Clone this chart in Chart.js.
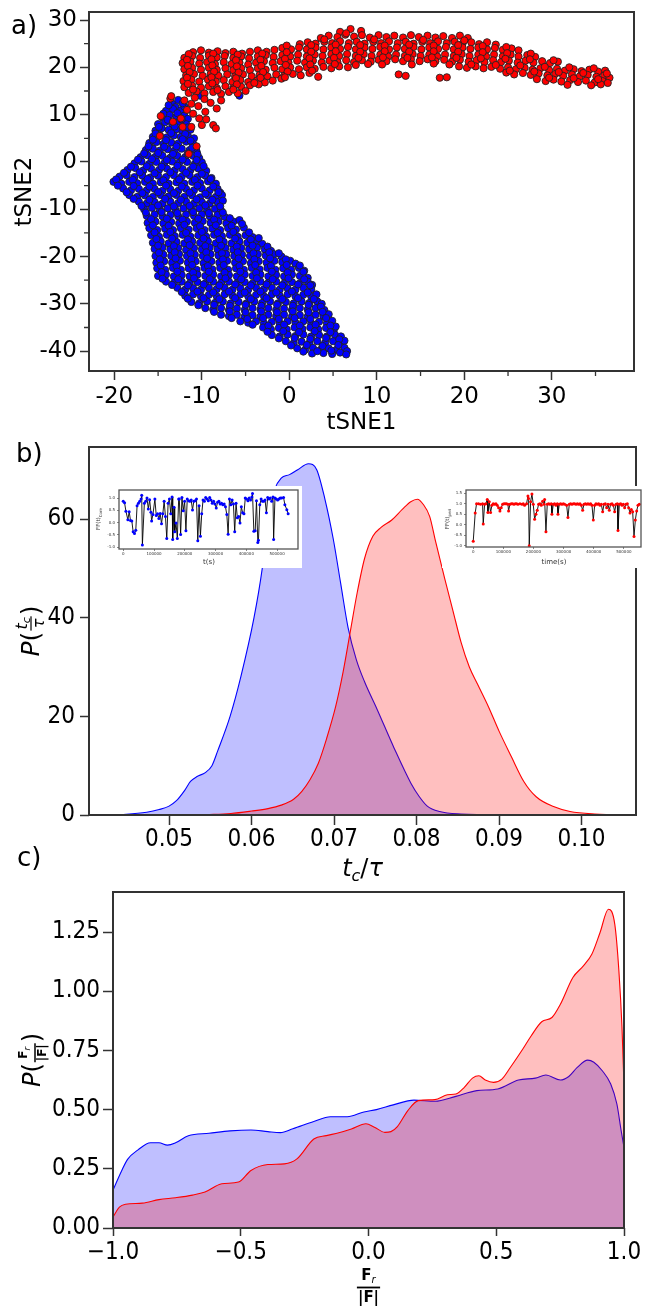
<!DOCTYPE html>
<html>
<head>
<meta charset="utf-8">
<script src="https://cdn.jsdelivr.net/npm/chart.js@4.4.1/dist/chart.umd.min.js"></script>
<style>
  body { margin: 0; background: #fff; }
  #wrap { position: relative; width: 657px; height: 1306px; overflow: hidden; }
  canvas { position: absolute; }
</style>
</head>
<body>
<div id="wrap">
  <canvas id="tsne" width="657" height="440" style="left:0;top:0"></canvas>
  <canvas id="tc" width="657" height="445" style="left:0;top:440px"></canvas>
  <canvas id="fr" width="657" height="466" style="left:0;top:840px"></canvas>
  <canvas id="core" width="210" height="82" style="left:92px;top:486px;background:#fff"></canvas>
  <canvas id="peri" width="208" height="82" style="left:442px;top:486px;background:#fff"></canvas>
</div>
<script>
// ---- a) tSNE embedding: core (blue) and periphery (red) points
const tsneCore = [
  [-13.4,12.3],[-12.7,13.1],[-13.0,11.6],[-10.2,14.0],[-5.7,14.0],
  [-14.1,10.8],[-13.3,11.2],[-12.4,10.9],[-12.0,11.7],
  [-14.5,9.4],[-13.7,9.9],[-12.9,9.6],[-12.0,9.8],[-11.6,9.1],
  [-15.0,8.0],[-14.2,8.4],[-13.4,8.1],[-12.6,8.5],[-11.8,8.0],
  [-15.3,6.6],[-14.6,7.1],[-13.8,6.8],[-12.9,6.9],[-12.2,6.5],[-11.3,6.8],
  [-15.6,5.3],[-14.8,5.6],[-14.0,5.2],[-13.2,5.6],[-12.4,5.3],[-11.6,5.5],[-10.9,5.0],
  [-16.0,4.0],[-15.2,4.2],[-14.4,3.8],[-13.5,4.1],[-12.7,3.9],[-11.8,4.3],[-11.0,3.8],
  [-16.4,2.5],[-15.6,2.8],[-14.8,2.4],[-13.9,2.7],[-13.1,2.4],[-12.3,2.8],[-11.4,2.5],[-10.6,2.2],
  [-17.0,1.0],[-16.2,1.4],[-15.3,1.1],[-14.5,1.3],[-13.6,0.9],[-12.8,1.3],[-11.9,1.0],[-11.0,1.3],[-10.3,0.8],
  [-17.7,-0.3],[-16.9,0.1],[-16.0,-0.4],[-15.2,0.0],[-14.3,-0.3],[-13.4,0.1],[-12.6,-0.2],[-11.7,0.0],[-10.8,-0.4],[-10.0,-0.1],
  [-18.5,-1.7],[-17.6,-1.3],[-16.7,-1.8],[-15.8,-1.4],[-14.9,-1.7],[-14.0,-1.4],[-13.1,-1.8],[-12.2,-1.5],[-11.3,-1.7],[-10.4,-1.4],[-9.5,-1.9],
  [-19.4,-3.1],[-18.6,-2.8],[-17.7,-3.2],[-16.8,-2.9],[-15.9,-3.3],[-15.0,-2.9],[-14.1,-3.2],[-13.2,-2.8],[-12.3,-3.1],[-11.4,-2.8],[-10.5,-3.2],[-9.6,-2.9],[-8.9,-3.4],
  [-20.1,-4.2],[-19.2,-4.6],[-18.3,-4.2],[-17.4,-4.5],[-16.5,-4.2],[-15.6,-4.6],[-14.7,-4.3],[-13.8,-4.6],[-12.9,-4.3],[-12.0,-4.6],[-11.1,-4.2],[-10.2,-4.5],[-9.3,-4.1],[-8.4,-4.6],
  [-19.0,-5.6],[-18.1,-6.0],[-17.2,-5.7],[-16.3,-6.0],[-15.4,-5.7],[-14.5,-6.1],[-13.6,-5.8],[-12.7,-6.1],[-11.8,-5.7],[-10.9,-6.0],[-10.0,-5.6],[-9.1,-6.0],[-8.2,-5.7],[-7.9,-6.5],
  [-18.3,-7.0],[-17.4,-7.4],[-16.5,-7.1],[-15.6,-7.4],[-14.7,-7.0],[-13.8,-7.3],[-12.9,-7.0],[-12.0,-7.4],[-11.1,-7.1],[-10.2,-7.5],[-9.3,-7.1],[-8.4,-7.4],[-7.7,-7.0],
  [-17.2,-8.4],[-16.3,-8.8],[-15.4,-8.5],[-14.5,-8.8],[-13.6,-8.4],[-12.7,-8.7],[-11.8,-8.4],[-10.9,-8.8],[-10.0,-8.5],[-9.1,-8.8],[-8.2,-8.5],[-7.6,-8.2],
  [-16.6,-10.0],[-15.7,-9.7],[-14.8,-10.1],[-13.9,-9.8],[-13.0,-10.2],[-12.1,-9.8],[-11.2,-10.1],[-10.3,-9.8],[-9.4,-10.2],[-8.5,-9.9],[-7.8,-10.3],
  [-16.3,-11.4],[-15.4,-11.1],[-14.5,-11.5],[-13.6,-11.2],[-12.7,-11.5],[-11.8,-11.1],[-10.9,-11.4],[-10.0,-11.1],[-9.1,-11.5],[-8.2,-11.2],[-7.4,-11.6],
  [-16.2,-12.9],[-15.3,-12.6],[-14.4,-13.0],[-13.5,-12.7],[-12.6,-13.0],[-11.7,-12.6],[-10.8,-12.9],[-9.9,-12.5],[-9.0,-12.9],[-8.1,-12.6],[-7.2,-13.0],[-6.4,-12.6],[-5.7,-12.3],
  [-16.0,-14.0],[-15.1,-14.4],[-14.2,-14.1],[-13.3,-14.4],[-12.4,-14.0],[-11.5,-14.3],[-10.6,-14.0],[-9.7,-14.4],[-8.8,-14.1],[-7.9,-14.4],[-7.0,-14.0],[-6.1,-14.3],[-5.2,-13.9],
  [-15.8,-15.5],[-14.9,-15.8],[-14.0,-15.4],[-13.1,-15.7],[-12.2,-15.4],[-11.3,-15.8],[-10.4,-15.5],[-9.5,-15.8],[-8.6,-15.4],[-7.7,-15.7],[-6.8,-15.4],[-5.9,-15.8],[-5.0,-15.5],[-4.2,-15.9],
  [-15.6,-17.1],[-14.7,-16.8],[-13.8,-17.2],[-12.9,-16.9],[-12.0,-17.2],[-11.1,-16.8],[-10.2,-17.1],[-9.3,-16.8],[-8.4,-17.2],[-7.5,-16.9],[-6.6,-17.2],[-5.7,-16.8],[-4.8,-17.1],[-3.9,-16.8],[-3.1,-17.3],
  [-15.4,-18.4],[-14.5,-18.1],[-13.6,-18.5],[-12.7,-18.2],[-11.8,-18.6],[-10.9,-18.2],[-10.0,-18.5],[-9.1,-18.1],[-8.2,-18.5],[-7.3,-18.2],[-6.4,-18.6],[-5.5,-18.2],[-4.6,-18.5],[-3.7,-18.1],[-2.8,-18.5],[-2.1,-18.8],
  [-15.3,-19.9],[-14.4,-19.6],[-13.5,-19.9],[-12.6,-19.5],[-11.7,-19.9],[-10.8,-19.6],[-9.9,-19.9],[-9.0,-19.5],[-8.1,-19.8],[-7.2,-19.5],[-6.3,-19.9],[-5.4,-19.6],[-4.5,-19.9],[-3.6,-19.5],[-2.7,-19.8],[-1.8,-19.5],[-0.9,-20.0],
  [-15.2,-21.3],[-14.3,-21.0],[-13.4,-21.3],[-12.5,-20.9],[-11.6,-21.3],[-10.7,-21.0],[-9.8,-21.4],[-8.9,-21.0],[-8.0,-21.3],[-7.1,-20.9],[-6.2,-21.3],[-5.3,-21.0],[-4.4,-21.4],[-3.5,-21.0],[-2.6,-21.3],[-1.7,-20.9],[-0.8,-21.2],[0.1,-20.9],[0.7,-21.5],
  [-15.1,-22.5],[-14.2,-22.8],[-13.3,-22.4],[-12.4,-22.8],[-11.5,-22.5],[-10.6,-22.8],[-9.7,-22.4],[-8.8,-22.7],[-7.9,-22.4],[-7.0,-22.8],[-6.1,-22.5],[-5.2,-22.8],[-4.3,-22.4],[-3.4,-22.7],[-2.5,-22.4],[-1.6,-22.8],[-0.7,-22.5],[0.2,-22.8],[1.1,-22.4],[1.7,-23.0],
  [-15.0,-24.1],[-14.1,-23.8],[-13.2,-24.2],[-12.3,-23.9],[-11.4,-24.2],[-10.5,-23.8],[-9.6,-24.1],[-8.7,-23.8],[-7.8,-24.2],[-6.9,-23.9],[-6.0,-24.2],[-5.1,-23.8],[-4.2,-24.1],[-3.3,-23.8],[-2.4,-24.2],[-1.5,-23.9],[-0.6,-24.2],[0.3,-23.8],[1.2,-24.1],[2.1,-24.5],
  [-14.1,-25.3],[-13.2,-25.6],[-12.3,-25.3],[-11.4,-25.7],[-10.5,-25.4],[-9.6,-25.7],[-8.7,-25.3],[-7.8,-25.6],[-6.9,-25.3],[-6.0,-25.7],[-5.1,-25.4],[-4.2,-25.7],[-3.3,-25.3],[-2.4,-25.6],[-1.5,-25.3],[-0.6,-25.7],[0.3,-25.4],[1.2,-25.7],[2.1,-25.3],[2.6,-26.0],
  [-12.8,-26.6],[-11.9,-27.0],[-11.0,-26.7],[-10.1,-27.0],[-9.2,-26.6],[-8.3,-26.9],[-7.4,-26.6],[-6.5,-27.0],[-5.6,-26.7],[-4.7,-27.0],[-3.8,-26.6],[-2.9,-26.9],[-2.0,-26.6],[-1.1,-27.0],[-0.2,-26.7],[0.7,-27.0],[1.6,-26.6],[2.5,-26.9],
  [-11.9,-28.3],[-11.0,-28.0],[-10.1,-28.4],[-9.2,-28.1],[-8.3,-28.4],[-7.4,-28.0],[-6.5,-28.3],[-5.6,-28.0],[-4.7,-28.4],[-3.8,-28.1],[-2.9,-28.4],[-2.0,-28.0],[-1.1,-28.3],[-0.2,-28.0],[0.7,-28.4],[1.6,-28.1],[2.5,-28.4],[3.1,-28.0],
  [-11.2,-29.6],[-10.3,-29.9],[-9.4,-29.5],[-8.5,-29.8],[-7.6,-29.5],[-6.7,-29.9],[-5.8,-29.6],[-4.9,-29.9],[-4.0,-29.5],[-3.1,-29.8],[-2.2,-29.5],[-1.3,-29.9],[-0.4,-29.6],[0.5,-29.9],[1.4,-29.5],[2.3,-29.8],[3.2,-29.5],[3.7,-30.0],
  [-9.6,-30.9],[-8.7,-31.2],[-7.8,-30.9],[-6.9,-31.3],[-6.0,-31.0],[-5.1,-31.3],[-4.2,-30.9],[-3.3,-31.2],[-2.4,-30.9],[-1.5,-31.3],[-0.6,-31.0],[0.3,-31.3],[1.2,-30.9],[2.1,-31.2],[3.0,-30.9],[4.0,-31.3],
  [-7.8,-32.3],[-6.9,-32.6],[-6.0,-32.3],[-5.1,-32.7],[-4.2,-32.4],[-3.3,-32.7],[-2.4,-32.3],[-1.5,-32.6],[-0.6,-32.3],[0.3,-32.7],[1.2,-32.4],[2.1,-32.7],[3.0,-32.3],[3.9,-32.6],[4.5,-32.2],
  [-5.6,-33.7],[-4.7,-34.0],[-3.8,-33.7],[-2.9,-34.1],[-2.0,-33.8],[-1.1,-34.1],[-0.2,-33.7],[0.7,-34.0],[1.6,-33.7],[2.5,-34.1],[3.4,-33.8],[4.3,-34.1],[4.9,-33.6],
  [-3.0,-35.0],[-2.1,-35.4],[-1.2,-35.1],[-0.3,-35.4],[0.6,-35.0],[1.5,-35.3],[2.4,-35.0],[3.3,-35.4],[4.2,-35.1],[5.1,-35.4],[5.3,-34.8],
  [-2.0,-36.6],[-1.1,-36.9],[-0.2,-36.5],[0.7,-36.8],[1.6,-36.5],[2.5,-36.9],[3.4,-36.6],[4.3,-36.9],[5.2,-36.5],[5.9,-36.9],
  [-0.4,-37.9],[0.5,-38.3],[1.4,-38.0],[2.3,-38.3],[3.2,-37.9],[4.1,-38.2],[5.0,-37.9],[5.9,-38.3],[6.3,-37.8],
  [0.9,-39.4],[1.8,-39.7],[2.7,-39.3],[3.6,-39.7],[4.5,-39.4],[5.4,-39.7],[6.3,-39.3],[6.6,-40.0],
  [2.6,-40.5],[3.9,-40.4],[4.9,-40.6],[5.8,-40.3],[6.5,-40.7],
  // second, offset layer filling the gaps
  [-13.8,12.0],[-12.2,12.4],[-14.4,10.2],[-12.8,10.3],[-13.9,8.9],[-12.3,9.0],[-14.9,7.4],[-13.1,7.5],[-11.6,7.3],
  [-15.3,6.0],[-13.5,6.1],[-11.9,5.9],[-15.6,4.7],[-14.1,4.6],[-12.2,4.8],[-11.3,4.5],[-16.1,3.3],[-14.3,3.2],[-12.9,3.3],[-11.1,3.0],
  [-16.6,1.8],[-15.0,1.9],[-13.3,1.7],[-11.6,1.8],[-10.5,1.6],[-17.3,0.5],[-15.7,0.6],[-14.0,0.4],[-12.2,0.5],[-10.6,0.4],
  [-18.1,-1.0],[-16.3,-0.9],[-14.6,-1.0],[-12.8,-0.8],[-11.0,-1.0],[-9.8,-0.9],[-18.9,-2.3],[-17.1,-2.2],[-15.4,-2.4],[-13.6,-2.2],[-11.8,-2.3],[-10.0,-2.5],
  [-19.8,-3.7],[-17.9,-3.8],[-16.2,-3.6],[-14.4,-3.9],[-12.6,-3.7],[-10.8,-3.8],[-9.0,-3.6],[-19.6,-5.0],[-17.8,-5.1],[-16.0,-5.2],[-14.1,-5.0],[-12.3,-5.2],[-10.5,-5.0],[-8.7,-5.2],
  [-18.6,-6.4],[-16.8,-6.6],[-15.0,-6.4],[-13.2,-6.6],[-11.4,-6.5],[-9.6,-6.7],[-8.1,-6.4],[-17.8,-7.8],[-16.0,-8.0],[-14.2,-7.8],[-12.4,-8.0],[-10.6,-7.9],[-8.8,-8.0],
  [-16.9,-9.3],[-15.0,-9.2],[-13.2,-9.4],[-11.4,-9.3],[-9.6,-9.2],[-7.9,-9.4],[-16.4,-10.7],[-14.6,-10.6],[-12.8,-10.8],[-11.0,-10.6],[-9.2,-10.8],[-7.6,-10.7],
  [-15.8,-12.1],[-14.0,-12.0],[-12.2,-12.2],[-10.4,-12.0],[-8.6,-12.2],[-6.8,-11.9],[-15.6,-13.4],[-13.8,-13.5],[-12.0,-13.3],[-10.2,-13.6],[-8.4,-13.4],[-6.6,-13.5],[-5.4,-13.1],
  [-15.4,-14.9],[-13.6,-14.8],[-11.8,-15.0],[-10.0,-14.8],[-8.2,-15.0],[-6.4,-14.8],[-4.6,-14.9],[-15.2,-16.3],[-13.4,-16.2],[-11.6,-16.4],[-9.8,-16.2],[-8.0,-16.4],[-6.2,-16.2],[-4.4,-16.4],[-3.5,-16.1],
  [-15.0,-17.7],[-13.2,-17.8],[-11.4,-17.6],[-9.6,-17.8],[-7.8,-17.7],[-6.0,-17.9],[-4.2,-17.7],[-2.5,-17.9],
  [-14.9,-19.2],[-13.1,-19.1],[-11.3,-19.3],[-9.5,-19.1],[-7.7,-19.3],[-5.9,-19.1],[-4.1,-19.3],[-2.3,-19.1],[-1.2,-19.3],
  [-14.8,-20.6],[-13.0,-20.4],[-11.2,-20.6],[-9.4,-20.4],[-7.6,-20.6],[-5.8,-20.4],[-4.0,-20.6],[-2.2,-20.4],[-0.4,-20.6],
  [-14.7,-21.9],[-12.9,-22.0],[-11.1,-21.8],[-9.3,-22.0],[-7.5,-21.8],[-5.7,-22.0],[-3.9,-21.8],[-2.1,-22.0],[-0.3,-21.8],[1.2,-21.9],
  [-14.6,-23.3],[-12.8,-23.2],[-11.0,-23.4],[-9.2,-23.2],[-7.4,-23.4],[-5.6,-23.2],[-3.8,-23.4],[-2.0,-23.2],[-0.2,-23.4],[1.6,-23.2],
  [-14.5,-24.7],[-12.7,-24.8],[-10.9,-24.6],[-9.1,-24.8],[-7.3,-24.6],[-5.5,-24.8],[-3.7,-24.6],[-1.9,-24.8],[-0.1,-24.6],[1.7,-24.8],
  [-13.4,-26.0],[-11.6,-26.1],[-9.8,-25.9],[-8.0,-26.1],[-6.2,-25.9],[-4.4,-26.1],[-2.6,-25.9],[-0.8,-26.1],[1.0,-25.9],[2.4,-26.1],
  [-12.3,-27.5],[-10.5,-27.4],[-8.7,-27.6],[-6.9,-27.4],[-5.1,-27.6],[-3.3,-27.4],[-1.5,-27.6],[0.3,-27.4],[2.1,-27.6],
  [-11.6,-28.9],[-9.8,-28.8],[-8.0,-29.0],[-6.2,-28.8],[-4.4,-29.0],[-2.6,-28.8],[-0.8,-29.0],[1.0,-28.8],[2.8,-29.0],
  [-10.4,-30.3],[-8.6,-30.2],[-6.8,-30.4],[-5.0,-30.2],[-3.2,-30.4],[-1.4,-30.2],[0.4,-30.4],[2.2,-30.2],[3.6,-30.6],
  [-8.6,-31.7],[-6.8,-31.6],[-5.0,-31.8],[-3.2,-31.6],[-1.4,-31.8],[0.4,-31.6],[2.2,-31.8],[3.8,-31.7],
  [-6.6,-33.0],[-4.8,-33.2],[-3.0,-33.0],[-1.2,-33.2],[0.6,-33.0],[2.4,-33.2],[4.2,-33.0],
  [-4.2,-34.4],[-2.4,-34.6],[-0.6,-34.4],[1.2,-34.6],[3.0,-34.4],[4.7,-34.6],[-2.5,-35.9],[-0.7,-35.8],[1.1,-36.0],[2.9,-35.8],[4.7,-36.0],
  [-1.2,-37.3],[0.6,-37.2],[2.4,-37.4],[4.2,-37.2],[5.7,-37.5],[0.2,-38.8],[2.0,-38.7],[3.8,-38.9],[5.6,-38.7],[1.6,-40.1],[3.2,-40.0],[4.8,-39.9]
];
const tsnePeri = [
  [5.8,27.5],[7.0,28.1],[8.2,27.7],
  [3.6,26.2],[4.5,26.7],[5.5,26.4],[6.4,26.9],[7.4,26.5],[8.3,26.8],[9.2,26.3],[10.2,26.8],[11.1,26.4],[12.0,26.7],[13.0,26.3],[13.9,26.8],[14.8,26.4],[15.8,26.7],[16.7,26.3],[17.6,26.6],[18.6,26.2],[19.5,26.7],[20.4,26.2],
  [1.2,24.9],[2.1,25.3],[3.0,25.0],[4.0,25.4],[4.9,25.1],[5.8,25.5],[6.8,25.1],[7.7,25.4],[8.6,25.0],[9.6,25.4],[10.5,25.1],[11.4,25.5],[12.4,25.1],[13.3,25.4],[14.2,25.0],[15.2,25.4],[16.1,25.1],[17.0,25.5],[18.0,25.1],[18.9,25.4],[19.8,25.0],[20.8,25.3],[21.7,24.9],[22.6,25.3],[23.6,24.8],
  [-11.0,23.2],[-10.1,23.6],[-9.2,23.1],[-8.2,23.4],[-7.3,23.0],[-6.4,23.3],[-5.4,22.9],[-4.5,23.3],[-3.6,23.6],[-2.6,23.3],[-1.7,23.7],[-0.8,24.1],[0.2,23.8],[1.1,24.2],[2.0,23.8],[3.0,24.2],[3.9,23.8],[4.8,24.2],[5.8,23.9],[6.7,24.3],[7.6,23.8],[8.6,24.2],[9.5,23.9],[10.4,24.3],[11.4,23.8],[12.3,24.2],[13.2,23.9],[14.2,24.3],[15.1,23.8],[16.0,24.2],[17.0,23.9],[17.9,24.3],[18.8,23.8],[19.8,24.2],[20.7,23.9],[21.6,24.2],[22.6,23.8],[23.5,24.1],[24.4,23.7],[25.4,24.0],[26.2,23.6],
  [-12.0,22.0],[-11.1,22.4],[-10.2,22.0],[-9.2,22.5],[-8.3,22.1],[-7.4,22.4],[-6.4,22.0],[-5.5,22.3],[-4.6,21.9],[-3.6,22.3],[-2.7,22.6],[-1.8,22.2],[-0.8,22.6],[0.1,22.3],[1.0,22.7],[2.0,22.3],[2.9,22.7],[3.8,22.4],[4.8,22.8],[5.7,22.4],[6.6,22.8],[7.6,22.4],[8.5,22.8],[9.4,22.4],[10.4,22.7],[11.3,22.3],[12.2,22.7],[13.2,22.4],[14.1,22.8],[15.0,22.4],[16.0,22.7],[16.9,22.3],[17.8,22.7],[18.8,22.4],[19.7,22.8],[20.6,22.4],[21.6,22.7],[22.5,22.3],[23.4,22.7],[24.4,22.3],[25.3,22.7],[26.2,22.3],[27.2,22.6],[28.1,22.2],
  [-12.2,20.9],[-11.3,21.2],[-10.3,20.8],[-9.4,21.1],[-8.5,20.7],[-7.5,21.1],[-6.6,20.7],[-5.7,21.0],[-4.7,20.6],[-3.8,21.0],[-2.9,21.3],[-1.9,20.9],[-1.0,21.3],[-0.1,21.0],[0.9,21.4],[1.8,21.0],[2.7,21.4],[3.7,21.0],[4.6,21.4],[5.5,21.1],[6.5,21.5],[7.4,21.1],[8.3,21.5],[9.3,21.2],[10.2,21.6],[11.1,21.3],[12.1,21.7],[13.0,21.3],[13.9,21.7],[14.9,21.3],[15.8,21.7],[16.7,21.3],[17.7,21.6],[18.6,21.2],[19.5,21.6],[20.5,21.2],[21.4,21.5],[22.3,21.1],[23.3,21.5],[24.2,21.1],[25.1,21.4],[26.1,21.0],[27.0,21.4],[27.9,21.0],[28.9,21.3],[29.8,20.9],[30.7,21.2],
  [-12.0,19.6],[-11.1,19.9],[-10.1,19.5],[-9.2,19.9],[-8.3,19.5],[-7.3,19.8],[-6.4,19.4],[-5.5,19.8],[-4.5,19.4],[-3.6,19.8],[-2.7,19.5],[-1.7,19.9],[-0.8,19.6],[0.1,20.0],[1.1,19.6],[2.0,20.0],[2.9,19.7],[3.9,20.1],[4.8,19.8],[5.7,20.2],[6.7,20.0],[7.6,20.5],[9.0,20.7],[10.6,20.6],[14.0,20.6],[16.5,20.8],[18.3,20.6],[19.4,20.2],[20.3,19.9],[21.3,20.2],[22.2,19.8],[23.1,20.1],[24.1,19.7],[25.0,20.0],[25.9,19.6],[26.9,19.9],[27.8,19.5],[28.7,19.8],[29.7,19.4],[30.6,19.7],[31.5,19.3],[32.5,19.6],[33.4,19.2],[34.3,19.5],[35.3,19.1],[36.1,19.3],
  [-11.8,18.3],[-10.9,18.6],[-9.9,18.2],[-9.0,18.6],[-8.1,18.2],[-7.1,18.5],[-6.2,18.1],[-5.3,18.5],[-4.3,18.1],[-3.4,18.4],[-2.5,18.1],[-1.5,18.5],[-0.6,18.2],[0.4,18.6],[1.3,18.3],[2.3,18.8],[3.3,18.0],[12.5,18.5],[13.3,18.2],[17.2,17.8],[18.0,17.9],[24.8,18.9],[25.7,18.5],[26.7,18.8],[27.6,18.4],[28.5,18.7],[29.5,18.3],[30.4,18.6],[31.3,18.2],[32.3,18.5],[33.2,18.1],[34.1,18.4],[35.1,18.0],[36.0,18.3],[36.6,17.8],
  [-12.1,17.1],[-11.2,17.4],[-10.3,17.0],[-9.3,17.4],[-8.4,17.0],[-7.5,17.3],[-6.5,16.9],[-5.6,17.3],[-4.7,16.9],[-3.7,17.2],[-2.8,16.8],[-1.9,17.2],[-0.9,17.6],[28.3,17.5],[29.3,17.1],[30.2,17.4],[31.1,17.0],[32.1,17.3],[33.0,16.9],[33.9,17.2],[34.9,16.8],[35.8,17.1],[36.4,16.7],
  [-12.0,15.8],[-11.1,16.1],[-10.1,15.7],[-9.2,16.0],[-8.3,15.6],[-7.3,16.0],[-6.4,15.6],[-5.5,15.9],[-4.5,16.2],[-3.5,16.4],[31.8,16.3],[34.5,16.2],[35.6,16.4],
  [-11.5,14.6],[-10.6,14.9],[-9.7,14.5],[-8.7,14.8],[-7.8,14.4],[-6.9,14.8],[-5.9,14.5],[-5.0,15.0],
  // second, offset layer filling the gaps
  [6.5,27.2],[4.0,25.9],[9.7,25.9],[15.3,25.8],[20.0,25.7],[-0.3,24.6],[2.5,24.7],[5.3,24.8],[8.1,24.7],[10.9,24.6],[13.7,24.8],[16.5,24.6],[19.3,24.7],[22.1,24.5],[24.8,24.3],
  [-11.5,22.8],[-8.7,22.9],[-5.9,22.7],[-3.1,22.9],[-0.3,23.2],[2.5,23.3],[5.3,23.4],[8.1,23.3],[10.9,23.4],[13.7,23.3],[16.5,23.4],[19.3,23.3],[22.1,23.2],[24.9,23.0],[27.6,22.9],
  [-11.7,21.6],[-8.9,21.7],[-6.1,21.5],[-3.3,21.6],[-0.5,21.8],[2.3,21.9],[5.1,22.0],[7.9,22.0],[10.7,22.1],[13.5,22.0],[16.3,22.1],[19.1,22.0],[21.9,21.9],[24.7,21.8],[27.5,21.7],[30.2,21.5],
  [-11.6,20.3],[-8.8,20.4],[-6.0,20.2],[-3.2,20.3],[-0.4,20.5],[2.4,20.6],[5.2,20.7],[20.8,20.6],[23.6,20.5],[26.4,20.4],[29.2,20.1],[32.0,20.0],[34.8,19.8],
  [-11.4,19.0],[-8.6,19.1],[-5.8,18.9],[-3.0,19.0],[-0.2,19.1],[2.6,19.3],[25.2,19.3],[28.0,19.1],[30.8,19.0],[33.6,18.8],[36.3,18.7],
  [-11.7,17.8],[-8.9,17.9],[-6.1,17.7],[-3.3,17.8],[-0.5,17.9],[29.7,17.8],[32.5,17.7],[35.3,17.5],
  [-11.6,16.5],[-8.8,16.6],[-6.0,16.4],[-4.0,16.7],[-11.0,15.3],[-8.2,15.2],[-6.4,15.3],
  // points mixed into the core cluster
  [-13.6,13.4],[-12.0,13.0],[-11.2,12.3],[-10.4,11.8],[-9.6,10.6],[-10.3,9.2],[-12.4,9.2],[-13.3,8.5],
  [-12.2,7.4],[-11.2,7.4],[-10.0,7.8],[-8.7,7.8],[-8.4,7.1],[-10.6,3.3],[-11.5,1.7],[-14.8,5.5],[-14.7,9.7],
  [-13.5,13.9],[-9.0,12.5],[-8.3,11.3],[-7.8,13.0],[-11.0,10.2],[-9.5,9.0],[-11.7,11.0],[-10.8,13.6],[-9.7,13.3]
];
const tsneMinorX = [-15, -5, 5, 15, 25, 35];
const tsneMinorY = [-35, -25, -15, -5, 5, 15, 25];

// ---- b) distribution of t_c / tau
const tcCoreX = [0.0403,0.0422,0.0448,0.0473,0.0488,0.05,0.0509,0.0519,0.0526,0.0534,0.0544,0.0552,0.0559,0.0574,0.0587,0.0603,0.0613,0.062,0.0628,0.0636,0.0646,0.0656,0.0669,0.0679,0.0689,0.0699,0.0708,0.0717,0.0727,0.0737,0.0752,0.0773,0.0793,0.0803,0.0813,0.0828,0.0854,0.0905,0.1066];
const tcCoreY = [0,0.05,0.15,0.55,1.1,1.8,2.9,5.0,6.8,7.8,8.6,10,13,20,28,40,50,60,66,68.3,69,70,71.2,70,64,56,47,38,31.5,27,21.5,13.5,6.5,3.8,1.8,0.7,0.2,0.03,0];
const tcPeriX = [0.0403,0.0524,0.0549,0.0575,0.06,0.062,0.0636,0.0651,0.0661,0.0671,0.0681,0.0691,0.0702,0.0711,0.0719,0.0728,0.0737,0.0747,0.0757,0.077,0.0783,0.0793,0.0801,0.0808,0.0816,0.0823,0.0834,0.0844,0.0854,0.0864,0.0874,0.0887,0.09,0.0915,0.093,0.0945,0.0966,0.0986,0.1016,0.1066];
const tcPeriY = [0,0,0.1,0.3,0.8,1.3,2,3.2,4.8,7.2,10.5,15.5,22,29,36.5,45,52,56.5,58.3,59.8,62,63.5,64,63,60.5,55.5,48,41.5,35,30,26.5,22,17,11.8,6.8,3.7,1.7,0.7,0.2,0.02];

// insets: FF(t) time series
const insetTimeTicks = [0, 100000, 200000, 300000, 400000, 500000];
const coreSeries = [
  [0,0.87],[4300,0.81],[8600,0.47],[15000,0.12],[19300,0.45],[23600,0.09],[27900,0.07],[32200,-0.37],[36500,-0.44],[40700,-0.31],
  [45000,0.69],[49300,0.79],[53600,0.87],[57900,0.96],[60000,1.12],[62200,-0.91],[68600,0.79],[72900,0.87],[77200,1.0],[81500,0.56],
  [85700,0.93],[90000,0.43],[92200,0.07],[96500,0.33],[102900,0.96],[107200,0.29],[111500,0.36],[115800,0.17],[120000,0.37],[124400,-0.04],
  [128600,0.36],[132900,0.87],[137200,0.25],[141500,-0.64],[145800,0.79],[150100,0.96],[154400,0.36],[158600,1.05],[160800,-0.68],[165100,0.63],
  [167200,-0.37],[171500,-0.01],[175800,-0.64],[180100,0.96],[182300,0.96],[186500,-0.48],[190800,1.03],[195100,0.49],[199400,0.87],[203700,-0.33],
  [208000,0.96],[212300,0.89],[216500,0.87],[220800,0.92],[225100,0.52],[229400,0.87],[233700,0.89],[238000,0.96],[242300,-0.73],[246500,0.69],
  [250800,-0.55],[255100,0.36],[259400,0.92],[263700,0.87],[268000,1.03],[272300,0.96],[276600,0.89],[280900,1.03],[285100,0.92],[289400,0.79],
  [293700,0.87],[298000,0.76],[302300,0.6],[306600,0.83],[310900,0.87],[315200,0.76],[319500,0.79],[323700,0.73],[328000,0.76],[332300,0.65],
  [336600,0.33],[340900,-0.47],[345200,0.96],[349500,0.73],[353800,0.92],[358100,0.76],[362300,-0.37],[366600,0.79],[370900,0.2],[375200,0.25],
  [379500,-0.01],[383800,0.65],[388100,0.4],[392300,0.36],[396600,1.0],[400900,0.96],[405200,0.89],[409500,1.0],[413800,0.92],[418100,1.05],
  [420200,1.19],[424500,-0.35],[428800,-0.33],[433100,0.89],[437400,-0.81],[439500,-0.71],[443800,0.73],[448100,0.96],[452400,0.87],[456700,0.87],
  [461000,0.92],[465300,0.4],[469500,1.03],[473800,0.96],[478100,1.0],[482400,0.87],[486700,1.05],[488800,-0.68],[493100,1.0],[497400,0.96],
  [501700,0.92],[506000,0.96],[510300,1.0],[514600,1.0],[521000,1.03],[525300,0.73],[531700,0.53],[536000,0.36]
];
const periSeries = [
  [0,-0.79],[6600,0.56],[11100,1.0],[17700,1.0],[24400,0.97],[31000,1.0],[33200,0.03],[37700,0.97],[42100,1.0],[46500,1.2],
  [48700,0.58],[53200,1.09],[57600,0.58],[62000,0.93],[66400,1.0],[70900,0.97],[75300,1.0],[79700,0.93],[84200,0.81],[88600,0.65],
  [93000,0.81],[97500,0.97],[101900,1.0],[106300,1.0],[110700,1.0],[115200,0.97],[117400,0.65],[121800,0.97],[126200,1.0],[130700,1.0],
  [135100,0.97],[139500,1.0],[144000,1.0],[148400,0.97],[155000,1.0],[161700,0.97],[166100,1.0],[170500,0.93],[177200,1.0],[181600,1.37],
  [183800,1.25],[186000,-1.0],[190500,1.09],[194900,1.46],[199300,0.97],[203800,0.26],[208200,0.5],[212600,0.69],[217100,0.97],[221500,1.0],
  [225900,0.93],[230300,1.12],[234800,0.97],[237000,1.2],[241400,-0.33],[245800,0.97],[250300,1.0],[254700,0.97],[259100,1.0],[261300,0.5],
  [265800,0.97],[270200,1.0],[274600,0.93],[279100,1.0],[281300,0.5],[285700,0.97],[290100,1.0],[294600,0.97],[299000,1.0],[303400,0.97],
  [310100,0.93],[314500,0.34],[318900,0.97],[323400,1.0],[327800,0.97],[332200,1.0],[336600,1.0],[341100,0.97],[345500,1.0],[349900,0.97],
  [354400,1.0],[358800,0.93],[363200,0.69],[367700,0.97],[372100,1.0],[376500,0.97],[380900,1.0],[385400,0.97],[389800,1.0],[394200,0.93],
  [398700,0.22],[403100,0.93],[407500,1.0],[412000,0.97],[416400,1.0],[420800,0.93],[425200,0.97],[429700,0.62],[434100,0.97],[438500,1.0],
  [443000,0.81],[447400,0.97],[451800,0.69],[456200,0.97],[460700,1.0],[465100,0.93],[469500,0.62],[474000,0.97],[478400,1.0],[480600,-0.28],
  [485000,0.97],[489500,1.0],[493900,0.93],[498300,0.97],[502700,0.81],[507200,0.97],[511600,1.0],[516000,0.81],[520500,0.56],[524900,0.72],
  [529300,0.62],[533800,-0.56],[538200,0.22],[542600,0.65],[547000,0.93],[551500,0.97]
];

// ---- c) distribution of F_r / |F|
const frCoreX = [-1,-0.967,-0.943,-0.902,-0.853,-0.82,-0.787,-0.755,-0.705,-0.624,-0.542,-0.46,-0.394,-0.345,-0.296,-0.214,-0.149,-0.083,-0.018,0.031,0.097,0.178,0.26,0.342,0.424,0.506,0.587,0.653,0.694,0.751,0.784,0.817,0.858,0.882,0.915,0.948,0.972,0.989,1.0];
const frCoreY = [0.16,0.24,0.29,0.33,0.36,0.36,0.35,0.36,0.39,0.40,0.41,0.414,0.407,0.403,0.419,0.45,0.47,0.47,0.49,0.50,0.52,0.54,0.535,0.556,0.58,0.587,0.625,0.633,0.646,0.625,0.64,0.678,0.709,0.70,0.664,0.608,0.524,0.41,0.34];
const frPeriX = [-1,-0.975,-0.951,-0.885,-0.82,-0.755,-0.689,-0.64,-0.574,-0.509,-0.46,-0.394,-0.329,-0.28,-0.214,-0.165,-0.116,-0.067,-0.01,0.023,0.064,0.088,0.113,0.154,0.195,0.26,0.309,0.342,0.375,0.407,0.432,0.457,0.489,0.522,0.555,0.604,0.637,0.678,0.718,0.751,0.8,0.841,0.874,0.906,0.939,0.964,0.98,0.992,1.0];
const frPeriY = [0.046,0.088,0.10,0.105,0.12,0.128,0.139,0.152,0.187,0.194,0.243,0.268,0.271,0.292,0.376,0.39,0.402,0.418,0.44,0.426,0.404,0.407,0.428,0.496,0.538,0.542,0.563,0.566,0.594,0.633,0.643,0.625,0.615,0.629,0.678,0.756,0.812,0.871,0.889,0.945,1.058,1.107,1.156,1.247,1.346,1.282,1.086,0.85,0.6];

const FA = "'DejaVu Sans', sans-serif";
const FN = "'DejaVu Sans Condensed', 'DejaVu Sans', sans-serif";
const INK = '#333';

Chart.defaults.font.family = FA;
Chart.defaults.color = '#000';
Chart.defaults.animation = false;
Chart.defaults.responsive = false;
Chart.defaults.devicePixelRatio = 1;
Chart.defaults.events = [];
Chart.defaults.plugins.legend.display = false;
Chart.defaults.plugins.tooltip.enabled = false;

const xy = (xs, ys) => xs.map((v, i) => ({x: v, y: ys[i]}));
const pairs = arr => arr.map(p => ({x: p[0], y: p[1]}));

// fixed axis box so the plot areas line up across the canvases
function fit(size) {
  return s => {
    if (s.isHorizontal()) s.height = size; else s.width = size;
    s.paddingTop = s.paddingBottom = s.paddingLeft = s.paddingRight = 0;
  };
}

function axis(o) {
  const a = {
    type: 'linear', min: o.min, max: o.max, afterFit: fit(o.size),
    border: {display: false},
    grid: {drawOnChartArea: false, tickLength: o.tl, tickColor: o.tc || INK, tickWidth: o.tw || 1.5},
    ticks: {stepSize: o.step, includeBounds: false, autoSkip: false, maxRotation: 0,
            padding: o.pad, font: o.font, color: o.color || '#000', callback: o.fmt}
  };
  if (o.at) a.afterBuildTicks = s => { s.ticks = o.at.map(v => ({value: v})); };
  return a;
}

const frame = {
  id: 'frame',
  afterDraw(chart, args, opts) {
    const {ctx, chartArea: a} = chart;
    ctx.save();
    ctx.strokeStyle = opts.color;
    ctx.lineWidth = opts.width;
    ctx.strokeRect(a.left, a.top, a.right - a.left, a.bottom - a.top);
    ctx.restore();
  }
};

// small helpers for the math-style axis labels
function runsWidth(ctx, parts) {
  let w = 0;
  for (const p of parts) { ctx.font = p[1]; w += ctx.measureText(p[0]).width; }
  return w;
}
function runs(ctx, parts, x, y) {
  for (const p of parts) {
    ctx.font = p[1];
    ctx.fillText(p[0], x, y + (p[2] || 0));
    x += ctx.measureText(p[0]).width;
  }
  return x;
}
function fraction(ctx, num, den, cx, o) {
  const wn = runsWidth(ctx, num), wd = runsWidth(ctx, den);
  const w = Math.max(wn, wd) + 2 * o.pad;
  runs(ctx, num, cx - wn / 2, o.numY);
  runs(ctx, den, cx - wd / 2, o.denY);
  ctx.fillRect(cx - w / 2, o.barY - o.bar / 2, w, o.bar);
}
// P( num / den ) laid out horizontally around 0
function probLabel(ctx, num, den, o) {
  const big = 'italic ' + o.size + 'px ' + FA, par = o.size + 'px ' + FA;
  const wP = runsWidth(ctx, [['P', big]]), wPar = runsWidth(ctx, [['(', par]]);
  const wF = Math.max(runsWidth(ctx, num), runsWidth(ctx, den)) + 2 * o.pad + 2;
  let x = -(wP + 2 * wPar + wF) / 2;
  x = runs(ctx, [['P', big], ['(', par]], x, 0);
  fraction(ctx, num, den, x + wF / 2, o);
  runs(ctx, [[')', par]], x + wF, 0);
}

// ---------- a) tSNE scatter
const tsneText = {
  id: 'tsneText',
  afterDraw(chart) {
    const {ctx, chartArea: a, scales: {x, y}} = chart;
    ctx.save();
    ctx.strokeStyle = INK;
    ctx.lineWidth = 1.3;
    ctx.beginPath();
    tsneMinorX.forEach(v => { const p = x.getPixelForValue(v); ctx.moveTo(p, a.bottom); ctx.lineTo(p, a.bottom + 5); });
    tsneMinorY.forEach(v => { const p = y.getPixelForValue(v); ctx.moveTo(a.left, p); ctx.lineTo(a.left - 5, p); });
    ctx.stroke();
    ctx.fillStyle = '#000';
    ctx.font = '23px ' + FA;
    ctx.textAlign = 'center';
    ctx.fillText('tSNE1', (a.left + a.right) / 2, 429);
    ctx.save();
    ctx.translate(31, (a.top + a.bottom) / 2);
    ctx.rotate(-Math.PI / 2);
    ctx.fillText('tSNE2', 0, 0);
    ctx.restore();
    ctx.textAlign = 'left';
    ctx.font = '26px ' + FA;
    ctx.fillText('a)', 11, 34);
    ctx.restore();
  }
};

new Chart(document.getElementById('tsne'), {
  type: 'scatter',
  data: {
    datasets: [
      {data: pairs(tsnePeri), backgroundColor: '#ff0000', borderColor: '#222', borderWidth: 0.9, pointRadius: 3.6},
      {data: pairs(tsneCore), backgroundColor: '#0000ff', borderColor: '#222', borderWidth: 0.9, pointRadius: 3.6}
    ]
  },
  options: {
    layout: {padding: {left: 0, top: 12, right: 23, bottom: 0}},
    scales: {
      x: axis({min: -22.9, max: 39.4, size: 69, tl: 9, step: 10, pad: 3, font: {size: 23, family: FA}}),
      y: axis({min: -44.2, max: 31.7, size: 89, tl: 9, step: 10, pad: 3, font: {size: 23, family: FA}})
    },
    plugins: {frame: {color: INK, width: 2}}
  },
  plugins: [frame, tsneText]
});

// ---------- b) t_c / tau
const tcText = {
  id: 'tcText',
  afterDraw(chart) {
    const {ctx, chartArea: a} = chart;
    ctx.save();
    ctx.fillStyle = '#000';
    ctx.font = '26px ' + FA;
    ctx.fillText('b)', 16, 22);
    // x label: t_c / tau
    const xl = [['t', 'italic 24px ' + FA], ['c', 'italic 16px ' + FA, 5], ['/', '24px ' + FA], ['τ', 'italic 24px ' + FA]];
    runs(ctx, xl, (a.left + a.right) / 2 - runsWidth(ctx, xl) / 2, 436);
    // y label: P(t_c / tau)
    ctx.translate(39, (a.top + a.bottom) / 2);
    ctx.rotate(-Math.PI / 2);
    probLabel(ctx,
      [['t', 'italic 16px ' + FA], ['c', 'italic 11px ' + FA, 3]],
      [['τ', 'italic 16px ' + FA]],
      {size: 25, pad: 1, numY: -12, denY: 5, barY: -8, bar: 1.2});
    ctx.restore();
  }
};

new Chart(document.getElementById('tc'), {
  type: 'line',
  data: {
    datasets: [
      {data: xy(tcPeriX, tcPeriY), borderColor: '#ff0000', backgroundColor: 'rgba(255,0,0,0.25)', fill: 'origin'},
      {data: xy(tcCoreX, tcCoreY), borderColor: '#0000ff', backgroundColor: 'rgba(0,0,255,0.25)', fill: 'origin'}
    ]
  },
  options: {
    elements: {line: {borderWidth: 1.1, tension: 0.4, cubicInterpolationMode: 'monotone'}, point: {radius: 0}},
    layout: {padding: {left: 0, top: 7, right: 21, bottom: 0}},
    scales: {
      x: axis({min: 0.0403, max: 0.1066, size: 70, tl: 10, step: 0.01, pad: 0, font: {size: 24, family: FN}, fmt: v => v.toFixed(2)}),
      y: axis({min: 0, max: 74.6, size: 89, tl: 9, step: 20, pad: 5, font: {size: 24, family: FN}})
    },
    plugins: {frame: {color: INK, width: 2}}
  },
  plugins: [frame, tcText]
});

// ---------- insets
function insetText(label, sub, xlabel, lx, ly, xc) {
  return {
    id: 'insetText',
    afterDraw(chart) {
      const ctx = chart.ctx;
      ctx.save();
      ctx.fillStyle = '#333';
      ctx.font = '7px ' + FA;
      ctx.textAlign = 'center';
      ctx.fillText(xlabel, xc, 78);
      ctx.textAlign = 'left';
      ctx.translate(lx, ly);
      ctx.rotate(-Math.PI / 2);
      const parts = [[label, '5.5px ' + FA], [sub, '4px ' + FA, 1.5]];
      runs(ctx, parts, -runsWidth(ctx, parts) / 2, 0);
      ctx.restore();
    }
  };
}
function insetChart(id, series, color, o) {
  const tickFont = {size: 4, family: FA};
  new Chart(document.getElementById(id), {
    type: 'line',
    data: {datasets: [{data: pairs(series), borderColor: '#000', borderWidth: 0.9, tension: 0,
      pointRadius: 1.5, pointBackgroundColor: color, pointBorderWidth: 0}]},
    options: {
      layout: {padding: {left: 0, top: 3, right: o.right, bottom: 0}},
      scales: {
        x: axis({min: o.xmin, max: o.xmax, size: o.xh, tl: 2, tw: 0.7, tc: '#555', at: insetTimeTicks, pad: 1, font: tickFont, color: '#333', fmt: v => String(v)}),
        y: axis({min: o.ymin, max: o.ymax, size: o.yw, tl: 2, tw: 0.7, tc: '#555', step: 0.5, pad: 2, font: tickFont, color: '#333', fmt: v => v.toFixed(1)})
      },
      plugins: {frame: {color: '#555', width: 1.3}}
    },
    plugins: [frame, insetText('FF(t)', o.sub, o.xlabel, o.lx, 33, o.xc)]
  });
}
insetChart('core', coreSeries, '#0000ff', {xmin: -13800, xmax: 568000, ymin: -1.07, ymax: 1.33, right: 2, xh: 19, yw: 27, sub: 'Core', xlabel: 't(s)', lx: 8, xc: 117});
insetChart('peri', periSeries, '#ff0000', {xmin: -24000, xmax: 557000, ymin: -1.06, ymax: 1.65, right: 9, xh: 21, yw: 24, sub: 'peri', xlabel: 'time(s)', lx: 7, xc: 112});

// ---------- c) F_r / |F|
const frText = {
  id: 'frText',
  afterDraw(chart) {
    const {ctx, chartArea: a} = chart;
    ctx.save();
    ctx.fillStyle = '#000';
    ctx.font = '26px ' + FA;
    ctx.fillText('c)', 17, 26);
    // x label: F_r over |F|
    const cx = (a.left + a.right) / 2;
    fraction(ctx,
      [['F', 'bold 15px ' + FA], ['r', 'italic 10px ' + FA, 3]],
      [['|F|', 'bold 15px ' + FA]],
      cx, {pad: 1, numY: 440, denY: 462, barY: 447.5, bar: 1.8});
    // y label: P(F_r / |F|)
    ctx.translate(40, (a.top + a.bottom) / 2);
    ctx.rotate(-Math.PI / 2);
    probLabel(ctx,
      [['F', 'bold 12px ' + FA], ['r', 'italic 9px ' + FA, 2.5]],
      [['|F|', 'bold 12px ' + FA]],
      {size: 24, pad: 1, numY: -13, denY: 6, barY: -5, bar: 1.5});
    ctx.restore();
  }
};

new Chart(document.getElementById('fr'), {
  type: 'line',
  data: {
    datasets: [
      {data: xy(frPeriX, frPeriY), borderColor: '#ff0000', backgroundColor: 'rgba(255,0,0,0.25)', fill: 'origin'},
      {data: xy(frCoreX, frCoreY), borderColor: '#0000ff', backgroundColor: 'rgba(0,0,255,0.25)', fill: 'origin'}
    ]
  },
  options: {
    elements: {line: {borderWidth: 1.1, tension: 0.4, cubicInterpolationMode: 'monotone'}, point: {radius: 0}},
    layout: {padding: {left: 0, top: 52, right: 33, bottom: 0}},
    scales: {
      x: axis({min: -1, max: 1, size: 78, tl: 8, step: 0.5, pad: 2, font: {size: 24, family: FN},
               fmt: v => (v < 0 ? '\u2212' : '') + Math.abs(v).toFixed(1)}),
      y: axis({min: 0, max: 1.419, size: 113, tl: 10, step: 0.25, pad: 3, font: {size: 24, family: FN}, fmt: v => v.toFixed(2)})
    },
    plugins: {frame: {color: INK, width: 2}}
  },
  plugins: [frame, frText]
});
</script>
</body>
</html>
